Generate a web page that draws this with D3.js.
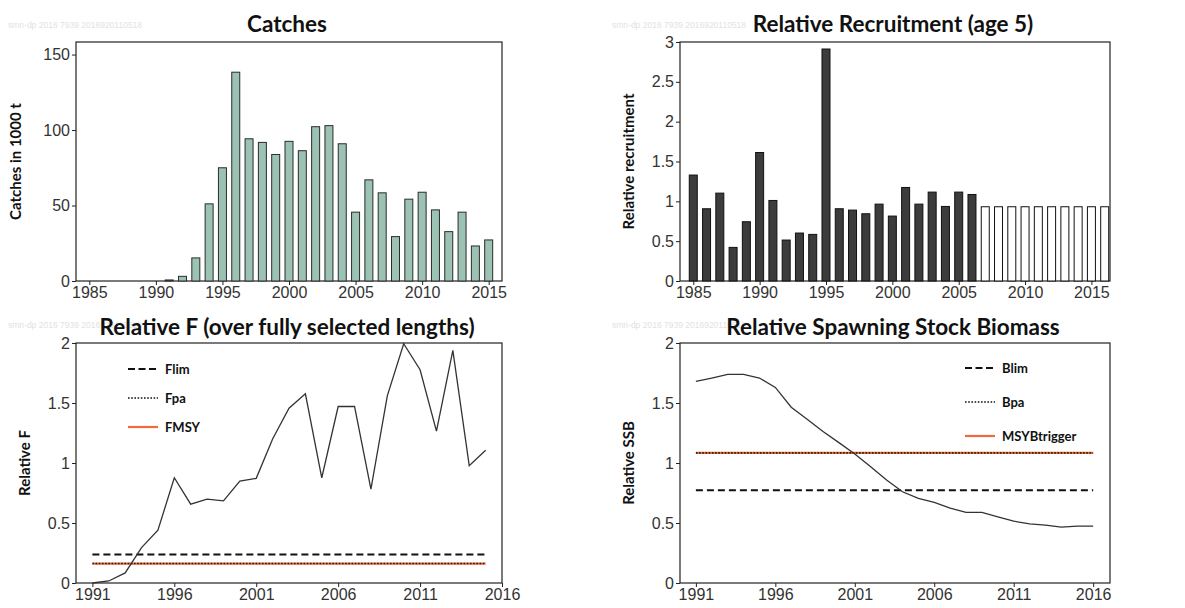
<!DOCTYPE html>
<html>
<head>
<meta charset="utf-8">
<script src="https://cdn.jsdelivr.net/npm/d3@7"></script>
<style>
body { margin: 0; background: #fff; }
.tick text { font-family: "Liberation Sans Narrow", "Liberation Sans", Arial, sans-serif; font-size: 16px; fill: #333; }
.title { font-family: Lato, "Open Sans", sans-serif; font-weight: bold; font-size: 22.5px; fill: #111; }
.ylab { font-family: Lato, "Open Sans", sans-serif; font-weight: bold; font-size: 15px; fill: #111; }
.leg { font-family: Lato, "Open Sans", sans-serif; font-weight: bold; font-size: 13px; fill: #111; }
.wm { font-family: "Liberation Sans", Arial, sans-serif; font-size: 8.5px; fill: #e2e2e2; }
</style>
</head>
<body>
<div id="chart"></div>
<script>
// catches (1000 t)
var catchYears = d3.range(1991, 2016);
var catches = [0.7, 3.1, 15.3, 51.1, 75.0, 138.3, 94.2, 91.8, 83.8, 92.5, 86.3, 102.2, 102.9,
               90.9, 45.6, 67.0, 58.4, 29.4, 54.2, 58.8, 47.1, 32.7, 45.6, 23.2, 27.2];

// relative recruitment, 2007+ are assumed (open bars)
var recYears = d3.range(1985, 2017);
var recruitment = [1.33, 0.907, 1.103, 0.422, 0.744, 1.613, 1.011, 0.514, 0.602, 0.585, 2.912,
                   0.907, 0.89, 0.844, 0.965, 0.815, 1.174, 0.965, 1.116, 0.936, 1.116, 1.086,
                   0.932, 0.932, 0.932, 0.932, 0.932, 0.932, 0.932, 0.932, 0.932, 0.932];
var recLastObserved = 2006;

// relative F
var fYears = d3.range(1991, 2016);
var relF = [0, 0.017, 0.084, 0.295, 0.44, 0.877, 0.657, 0.699, 0.685, 0.85, 0.872, 1.2, 1.457,
            1.577, 0.877, 1.471, 1.471, 0.783, 1.56, 1.994, 1.777, 1.265, 1.939, 0.978, 1.106];
var Flim = 0.237, Fpa = 0.162, FMSY = 0.162;

// relative SSB
var ssbYears = d3.range(1991, 2017);
var relSSB = [1.68, 1.708, 1.738, 1.738, 1.708, 1.63, 1.465, 1.365, 1.262, 1.17, 1.075, 0.969,
              0.858, 0.76, 0.705, 0.671, 0.624, 0.588, 0.588, 0.552, 0.515, 0.493, 0.482, 0.465,
              0.474, 0.474];
var Blim = 0.772, Bpa = 1.084, MSYBtrigger = 1.084;

var watermark = "smn-dp  2016  7939  2016920110518";
var orange = "#f26a3a";

var svg = d3.select("#chart").append("svg").attr("width", 1185).attr("height", 608);

function panel(o) {
    var g = svg.append("g");
    var x = d3.scaleLinear().domain(o.xdom).range([o.left, o.right]);
    var y = d3.scaleLinear().domain(o.ydom).range([o.bottom, o.top]);

    g.append("text").attr("class", "wm").attr("x", o.wmx).attr("y", o.wmy).text(watermark);

    g.append("g").attr("transform", "translate(0," + o.bottom + ")")
     .call(d3.axisBottom(x).tickValues(o.xticks).tickFormat(d3.format("d")).tickSize(4).tickPadding(2))
     .call(a => a.select(".domain").remove());
    g.append("g").attr("transform", "translate(" + o.left + ",0)")
     .call(d3.axisLeft(y).tickValues(o.yticks).tickFormat(d => String(d)).tickSize(4).tickPadding(2))
     .call(a => a.select(".domain").remove());
    g.selectAll(".tick line").attr("stroke", "#222");

    g.append("rect").attr("x", o.left).attr("y", o.top)
     .attr("width", o.right - o.left).attr("height", o.bottom - o.top)
     .attr("fill", "none").attr("stroke", "#222").attr("stroke-width", 1.2);

    g.append("text").attr("class", "title").attr("x", o.tx).attr("y", o.ty)
     .attr("text-anchor", "middle").text(o.title);
    g.append("text").attr("class", "ylab")
     .attr("transform", "translate(" + o.lx + "," + ((o.top + o.bottom) / 2) + ") rotate(-90)")
     .attr("text-anchor", "middle").text(o.ylabel);
    return {g: g, x: x, y: y};
}

// ---- Catches
var p1 = panel({left: 76, right: 502, top: 42, bottom: 281, xdom: [1984, 2016], ydom: [0, 158.3],
    xticks: [1985, 1990, 1995, 2000, 2005, 2010, 2015], yticks: [0, 50, 100, 150],
    title: "Catches", tx: 287, ty: 32, ylabel: "Catches in 1000 t", lx: 21, wmx: 8, wmy: 28});
p1.g.selectAll(".bar").data(catches).enter().append("rect")
    .attr("x", (d, i) => p1.x(catchYears[i]) - 4)
    .attr("width", 8)
    .attr("y", d => p1.y(d))
    .attr("height", d => p1.y(0) - p1.y(d))
    .attr("fill", "#9bc2b3").attr("stroke", "#2b2b2b").attr("stroke-width", 1);

// ---- Recruitment
var p2 = panel({left: 680, right: 1110, top: 42, bottom: 281, xdom: [1984, 2016.4], ydom: [0, 3],
    xticks: [1985, 1990, 1995, 2000, 2005, 2010, 2015], yticks: [0, 0.5, 1, 1.5, 2, 2.5, 3],
    title: "Relative Recruitment (age 5)", tx: 893, ty: 32, ylabel: "Relative recruitment", lx: 634,
    wmx: 612, wmy: 28});
p2.g.selectAll(".bar").data(recruitment).enter().append("rect")
    .attr("x", (d, i) => p2.x(recYears[i]) - 4)
    .attr("width", 8)
    .attr("y", d => p2.y(d))
    .attr("height", d => p2.y(0) - p2.y(d))
    .attr("fill", (d, i) => recYears[i] <= recLastObserved ? "#3c3c3c" : "#fff")
    .attr("stroke", "#111").attr("stroke-width", 1);

function refLines(p, years, lim, pa, msy) {
    var x0 = p.x(years[0]), x1 = p.x(years[years.length - 1]);
    p.g.append("line").attr("x1", x0).attr("x2", x1).attr("y1", p.y(msy)).attr("y2", p.y(msy))
        .attr("stroke", orange).attr("stroke-width", 2.2);
    p.g.append("line").attr("x1", x0).attr("x2", x1).attr("y1", p.y(pa)).attr("y2", p.y(pa))
        .attr("stroke", "#222").attr("stroke-width", 1.6).attr("stroke-dasharray", "1.6,1.6");
    p.g.append("line").attr("x1", x0).attr("x2", x1).attr("y1", p.y(lim)).attr("y2", p.y(lim))
        .attr("stroke", "#111").attr("stroke-width", 2).attr("stroke-dasharray", "7,4");
}

function legend(p, lx, ly, gap, names) {
    var styles = [
        {c: "#111", w: 2, dash: "7,3.5"},
        {c: "#111", w: 1.6, dash: "1.6,1.6"},
        {c: orange, w: 2.2, dash: null}];
    names.forEach(function (n, i) {
        var yy = ly + i * gap;
        p.g.append("line").attr("x1", lx).attr("x2", lx + 30).attr("y1", yy).attr("y2", yy)
            .attr("stroke", styles[i].c).attr("stroke-width", styles[i].w)
            .attr("stroke-dasharray", styles[i].dash);
        p.g.append("text").attr("class", "leg").attr("x", lx + 37).attr("y", yy + 4.5).text(n);
    });
}

var line = (p, years) => d3.line().x((d, i) => p.x(years[i])).y(d => p.y(d));

// ---- Relative F
var p3 = panel({left: 76, right: 502, top: 343, bottom: 583, xdom: [1990, 2016], ydom: [0, 2],
    xticks: [1991, 1996, 2001, 2006, 2011, 2016], yticks: [0, 0.5, 1, 1.5, 2],
    title: "Relative F (over fully selected lengths)", tx: 287, ty: 335, ylabel: "Relative F", lx: 30,
    wmx: 8, wmy: 328});
refLines(p3, fYears, Flim, Fpa, FMSY);
p3.g.append("path").datum(relF).attr("d", line(p3, fYears))
    .attr("fill", "none").attr("stroke", "#333").attr("stroke-width", 1.3);
legend(p3, 128, 369, 29, ["Flim", "Fpa", "FMSY"]);

// ---- Relative SSB
var p4 = panel({left: 680, right: 1110, top: 343, bottom: 583, xdom: [1990, 2017.06], ydom: [0, 2],
    xticks: [1991, 1996, 2001, 2006, 2011, 2016], yticks: [0, 0.5, 1, 1.5, 2],
    title: "Relative Spawning Stock Biomass", tx: 893, ty: 335, ylabel: "Relative SSB", lx: 634,
    wmx: 612, wmy: 328});
refLines(p4, ssbYears, Blim, Bpa, MSYBtrigger);
p4.g.append("path").datum(relSSB).attr("d", line(p4, ssbYears))
    .attr("fill", "none").attr("stroke", "#333").attr("stroke-width", 1.3);
legend(p4, 965, 368, 34, ["Blim", "Bpa", "MSYBtrigger"]);
</script>
</body>
</html>
